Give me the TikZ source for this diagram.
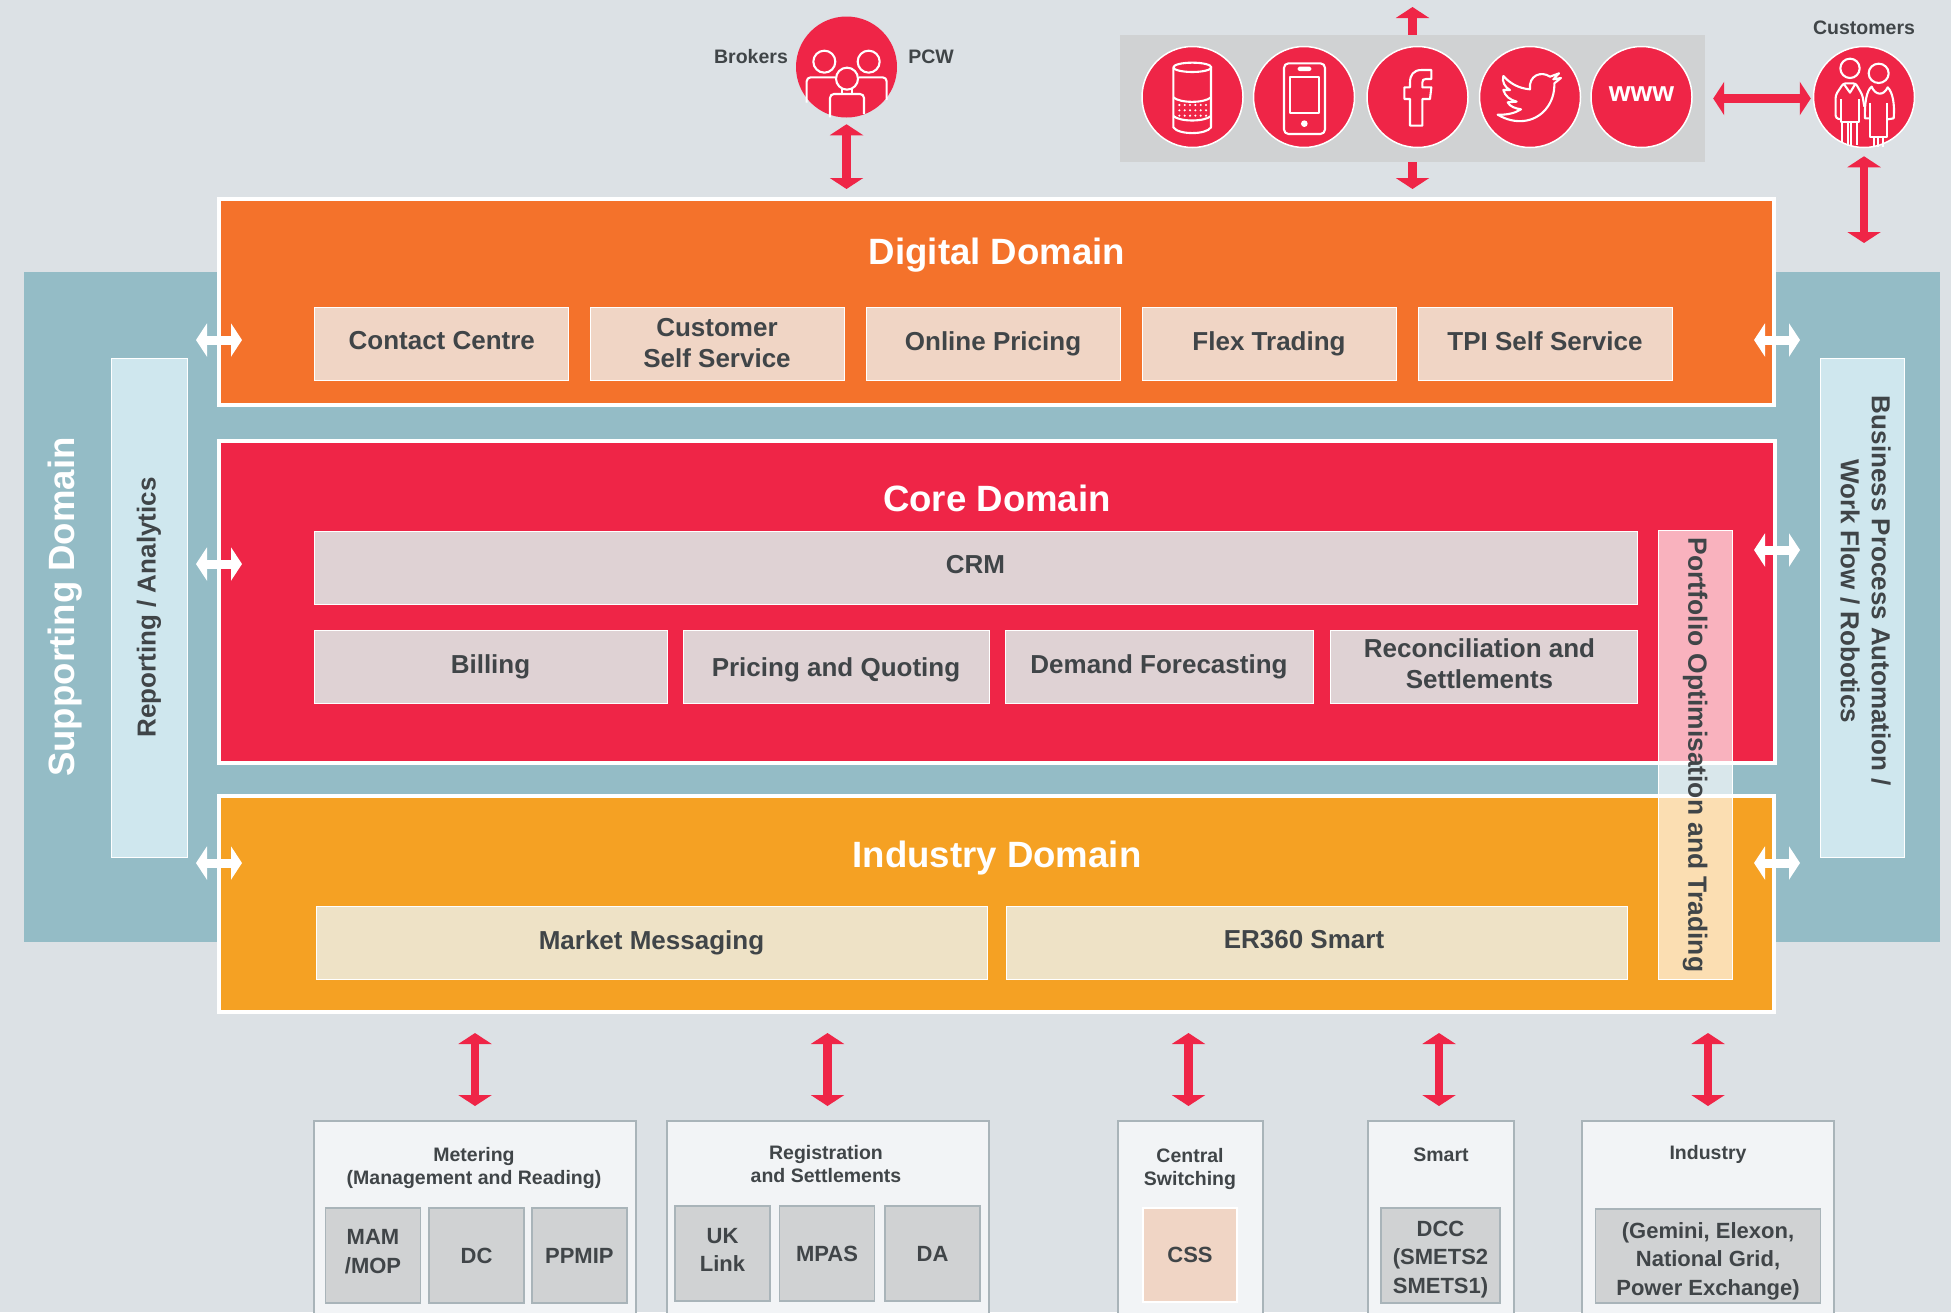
\documentclass[tikz,border=0pt]{standalone}
\usepackage{fontspec}
\setmainfont{Liberation Sans}
\usepackage{tikz}
\usetikzlibrary{arrows.meta}

\definecolor{pagegrey}{HTML}{DCE1E5}
\definecolor{teal}{HTML}{94BCC6}
\definecolor{palebar}{HTML}{CFE7EE}
\definecolor{digitalorange}{HTML}{F4722B}
\definecolor{corered}{HTML}{EF2547}
\definecolor{industryyellow}{HTML}{F5A123}
\definecolor{inorange}{HTML}{F0D5C5}
\definecolor{inred}{HTML}{DFD2D4}
\definecolor{inyellow}{HTML}{EEE2C6}
\definecolor{panelgrey}{HTML}{D0D2D3}
\definecolor{outerpale}{HTML}{F2F4F6}
\definecolor{edgegrey}{HTML}{A9B4B9}
\definecolor{inktext}{HTML}{404548}

\tikzset{
    domainbox/.style={draw=white, line width=4pt, inner sep=0pt},
    domaintitle/.style={text=white, font=\fontsize{36.6}{40}\selectfont\bfseries, inner sep=0pt},
    intext/.style={inner sep=0pt, align=center, text=inktext, font=\fontsize{26}{31}\selectfont\bfseries},
    inbox/.style={intext, draw=white, line width=1pt, minimum height=73pt},
    barbox/.style={intext, draw=white, line width=1pt},
    outerbox/.style={draw=edgegrey, line width=2pt, fill=outerpale, inner sep=0pt},
    subtext/.style={inner sep=0pt, align=center, text=inktext, font=\fontsize{22}{28.5}\selectfont\bfseries},
    subbox/.style={subtext, draw=edgegrey, line width=1.5pt, fill=panelgrey},
    smalltitle/.style={inner sep=0pt, align=center, text=inktext, font=\fontsize{19.5}{23}\selectfont\bfseries},
    iconcircle/.style={shape=circle, fill=corered, draw=white, line width=1.5pt, minimum size=101pt, inner sep=0pt},
    iconline/.style={draw=white, line width=2.1pt, line join=round},
    iconat/.style={shift={(#1)}, x=0.3333pt, y=-0.3333pt},
    redarrow/.style={draw=corered, line width=8.5pt, {Triangle[length=11pt,width=33pt]}-{Triangle[length=11pt,width=33pt]}},
    redup/.style={draw=corered, line width=8.5pt, -{Triangle[length=11pt,width=33pt]}},
    whitearrow/.style={draw=white, line width=9pt, {Triangle[length=11pt,width=33pt]}-{Triangle[length=11pt,width=33pt]}},
}

\begin{document}
\begin{tikzpicture}[x=1pt, y=-1pt]
    \clip (0,0) rectangle (1951,1312);
    \fill[pagegrey] (0,0) rectangle (1951,1312);

    \node[fill=teal, minimum width=1916pt, minimum height=669.5pt, inner sep=0pt] (supporting) at (982,607) {};
    \node[text=white, rotate=90, inner sep=0pt, font=\fontsize{36.6}{40}\selectfont\bfseries] (supportingtitle) at (65,607) {Supporting Domain};
    \node[barbox, fill=palebar, rotate=90, minimum width=499pt, minimum height=76pt] (reporting) at (149,607.5) {Reporting / Analytics};
    \node[barbox, fill=palebar, rotate=-90, minimum width=499pt, minimum height=84pt] (automation) at (1862,607.5) {};
    \node[intext, rotate=-90] (automationtext) at (1865.5,591) {Business Process Automation /\\Work Flow / Robotics};

    \node[domainbox, fill=digitalorange, minimum width=1555pt, minimum height=206pt] (digital) at (996.5,302) {};
    \node[domainbox, fill=corered, minimum width=1556pt, minimum height=322pt] (core) at (996.5,601.5) {};
    \node[domainbox, fill=industryyellow, minimum width=1555pt, minimum height=216pt] (industry) at (996.5,904) {};
    \node[domaintitle] (digitaltitle) at (997,255.5) {Digital Domain};
    \node[domaintitle] (coretitle) at (997,498) {Core Domain};
    \node[domaintitle] (industrytitle) at (997,858.5) {Industry Domain};

    \node[inbox, fill=inorange, minimum width=254pt] (contact) at (441.8,343.5) {Contact Centre\vphantom{g}};
    \node[inbox, fill=inorange, minimum width=254pt] (selfservice) at (717,343.5) {Customer\\Self Service};
    \node[inbox, fill=inorange, minimum width=254pt] (pricingonline) at (993,343.5) {Online Pricing};
    \node[inbox, fill=inorange, minimum width=254pt] (flex) at (1269,343.5) {Flex Trading};
    \node[inbox, fill=inorange, minimum width=254pt] (tpi) at (1545,343.5) {TPI Self Service\vphantom{g}};

    \node[inbox, fill=inred, minimum width=1323pt] (crm) at (975.5,567.5) {CRM\vphantom{g}};
    \node[inbox, fill=inred, minimum width=353pt] (billing) at (490.5,667) {Billing};
    \node[inbox, fill=inred, minimum width=306pt] (quoting) at (836,667) {};
    \node[intext] (quotingtext) at ([yshift=-2.5pt]quoting.center) {Pricing and Quoting};
    \node[inbox, fill=inred, minimum width=308pt] (demand) at (1159,667) {Demand Forecasting};
    \node[inbox, fill=inred, minimum width=307pt] (recon) at (1483.5,667) {};
    \node[intext] (recontext) at ([xshift=-4pt,yshift=3pt]recon.center) {Reconciliation and\\Settlements};

    \node[inbox, fill=inyellow, minimum width=671pt] (market) at (651.5,942.5) {Market Messaging};
    \node[inbox, fill=inyellow, minimum width=620.5pt] (er360) at (1317,942.5) {};
    \node[intext] (er360text) at ([xshift=-13pt]er360.center) {ER360 Smart\vphantom{g}};

    \node[barbox, fill=white, fill opacity=0.65, text opacity=1, rotate=-90, minimum width=448.5pt, minimum height=74pt, font=\fontsize{26.4}{31}\selectfont\bfseries] (portfolio) at (1695,755) {Portfolio Optimisation and Trading};

    \node[fill=panelgrey, minimum width=585pt, minimum height=127pt, inner sep=0pt] (panel) at (1412.5,98.5) {};
    \node[iconcircle, draw=none] (brokers) at (846.5,67) {};
    \node[iconcircle] (speaker) at (1192.5,97) {};
    \node[iconcircle] (phone) at (1304,97) {};
    \node[iconcircle] (facebook) at (1417.5,97) {};
    \node[iconcircle] (twitter) at (1530,97) {};
    \node[iconcircle] (www) at (1641.5,97) {};
    \node[iconcircle] (customers) at (1864,97) {};
    \node[text=white, inner sep=0pt, font=\fontsize{28}{30}\selectfont\bfseries] (wwwtext) at (1641.5,94.5) {www};
    \node[smalltitle] (brokerstext) at (751,57) {Brokers};
    \node[smalltitle] (pcwtext) at (931,57) {PCW};
    \node[smalltitle] (customerstext) at (1864,28) {Customers};

    \begin{scope}[iconat={790,10}]
        \draw[iconline] (103,155) circle (33);
        \draw[iconline] (236,155) circle (33);
        \draw[iconline] (171,206) circle (33);
        \draw[iconline, rounded corners=4pt] (50,278) -- (50,202) -- (137,202);
        \draw[iconline, rounded corners=4pt] (207,202) -- (290,202) -- (290,270);
        \draw[iconline, rounded corners=4pt] (120,322) -- (120,252) -- (222,252) -- (222,312);
        \draw[iconline] (155,238) -- (155,252);
        \draw[iconline] (187,238) -- (187,252);
    \end{scope}

    \begin{scope}[iconat={1135,40}]
        \draw[iconline] (172,82) ellipse (57 and 14);
        \draw[iconline] (115,82) -- (115,262) .. controls (130,285) and (214,285) .. (228,262) -- (228,82);
        \draw[iconline] (115,228) .. controls (135,246) and (208,246) .. (228,228);
        \draw[iconline] (115,172) .. controls (135,190) and (208,190) .. (228,172);
        \foreach \dotx in {133,149,165,181,197,213}
            \foreach \doty in {195,211,227}
                \fill[white] (\dotx,\doty) circle (3.5);
        \draw[iconline, rounded corners=4.5pt] (447,70) rectangle (570,282);
        \draw[iconline, rounded corners=1pt] (491,83) rectangle (526,90);
        \draw[iconline] (466,110) rectangle (551,220);
        \fill[white] (508,251) circle (10);
    \end{scope}

    \begin{scope}[iconat={1360,40}]
        \draw[iconline] (150,257) -- (187,257) -- (187,177) -- (210,177) -- (214,142) -- (187,142) -- (187,128)
            .. controls (187,120) and (190,117) .. (198,117) -- (214,117) -- (214,90) -- (185,90)
            .. controls (160,90) and (150,105) .. (150,128) -- (150,142) -- (133,142) -- (133,177) -- (150,177) -- cycle;
        \draw[iconline] (413,224) .. controls (440,240) and (465,245) .. (490,243)
            .. controls (545,238) and (585,190) .. (583,130) -- (603,114) -- (580,118) -- (597,100) -- (570,110)
            .. controls (545,92) and (505,105) .. (510,148)
            .. controls (475,145) and (450,130) .. (430,108)
            .. controls (425,125) and (435,142) .. (450,150) -- (430,150)
            .. controls (435,168) and (450,180) .. (470,185) -- (443,187)
            .. controls (450,200) and (465,205) .. (483,208)
            .. controls (465,220) and (440,225) .. (413,224) -- cycle;
    \end{scope}

    \begin{scope}[iconat={1805,40}]
        \draw[iconline] (135,85) circle (29);
        \draw[iconline] (221,100) ellipse (30 and 29);
        \draw[iconline, rounded corners=2.7pt] (108,238) -- (92,235) -- (92,165) -- (115,130) -- (152,130) -- (172,165) -- (178,200);
        \draw[iconline] (115,130) -- (135,158) -- (152,130);
        \draw[iconline] (108,178) -- (108,245) -- (163,245) -- (163,178);
        \draw[iconline] (112,245) -- (112,308);
        \draw[iconline] (128,245) -- (128,318);
        \draw[iconline] (138,245) -- (138,318);
        \draw[iconline] (155,245) -- (155,314);
        \draw[iconline] (195,235) -- (180,235) .. controls (178,190) and (185,150) .. (200,140) .. controls (210,165) and (235,170) .. (248,142) .. controls (262,155) and (270,190) .. (266,235) -- (248,238);
        \draw[iconline] (195,190) -- (195,290) -- (245,290) -- (245,190);
        \draw[iconline] (207,290) -- (207,320);
        \draw[iconline] (220,290) -- (220,322);
        \draw[iconline] (233,290) -- (233,320);
    \end{scope}

    \node[outerbox, minimum width=322pt, minimum height=219pt] (metering) at (475,1230.5) {};
    \node[outerbox, minimum width=322pt, minimum height=219pt] (registration) at (827.5,1230.5) {};
    \node[outerbox, minimum width=145pt, minimum height=219pt] (central) at (1190.5,1230.5) {};
    \node[outerbox, minimum width=146pt, minimum height=219pt] (smart) at (1441,1230.5) {};
    \node[outerbox, minimum width=251.5pt, minimum height=219pt] (industryext) at (1708,1230.5) {};

    \node[smalltitle] (meteringtitle) at (474,1168) {Metering\\(Management and Reading)};
    \node[smalltitle] (registrationtitle) at (826,1164) {Registration\\and Settlements};
    \node[smalltitle] (centraltitle) at (1190,1168.5) {Central\\Switching};
    \node[smalltitle] (smarttitle) at (1441,1155) {Smart};
    \node[smalltitle] (industrytitleext) at (1708,1154) {Industry};

    \node[subbox, minimum width=95pt, minimum height=95pt] (mam) at (373,1255.5) {};
    \node[subtext] (mamtext) at ([yshift=3.7pt]mam.center) {MAM\\/MOP};
    \node[subbox, minimum width=95pt, minimum height=95pt] (dc) at (476.5,1255.5) {DC};
    \node[subbox, minimum width=95pt, minimum height=95pt] (ppmip) at (579.3,1255.5) {PPMIP};
    \node[subbox, minimum width=95pt, minimum height=95pt] (uklink) at (722.5,1253.5) {};
    \node[subtext] (uklinktext) at ([yshift=3.7pt]uklink.center) {UK\\Link};
    \node[subbox, minimum width=95pt, minimum height=95pt] (mpas) at (827,1253.5) {MPAS};
    \node[subbox, minimum width=95pt, minimum height=95pt] (da) at (932.5,1253.5) {DA};
    \node[subbox, draw=white, fill=inorange, minimum width=94pt, minimum height=94pt] (css) at (1190,1255) {CSS};
    \node[subbox, minimum width=119pt, minimum height=95pt] (dcc) at (1440.5,1255.5) {};
    \node[subtext] (dcctext) at ([yshift=-3.7pt]dcc.center) {DCC\\(SMETS2\\SMETS1)};
    \node[subbox, minimum width=225pt, minimum height=94pt] (gemini) at (1708,1256) {};
    \node[subtext] (geminitext) at ([yshift=-5pt]gemini.center) {(Gemini, Elexon,\\National Grid,\\Power Exchange)};

    \coordinate (panelup) at (1412.5,7);
    \coordinate (customersdown) at (1864,243);

    \draw[redarrow, shorten <=6pt, shorten >=8pt] (brokers.south) -- (brokers.south |- digital.north);
    \draw[redup] (panel.north) -- (panelup);
    \draw[redup, shorten >=8pt] (panel.south) -- (panel.south |- digital.north);
    \draw[redarrow, shorten <=8pt, shorten >=2pt] (panel.east) -- (panel.east -| customers.west);
    \draw[redarrow, shorten <=8pt] (customers.south) -- (customersdown);

    \draw[redarrow, shorten <=14pt, shorten >=19pt] (metering.north) -- (metering.north |- industry.south);
    \draw[redarrow, shorten <=14pt, shorten >=19pt] (registration.north) -- (registration.north |- industry.south);
    \draw[redarrow, shorten <=14pt, shorten >=19pt] ([xshift=-2pt]central.north) -- ([xshift=-2pt]central.north |- industry.south);
    \draw[redarrow, shorten <=14pt, shorten >=19pt] ([xshift=-2pt]smart.north) -- ([xshift=-2pt]smart.north |- industry.south);
    \draw[redarrow, shorten <=14pt, shorten >=19pt] (industryext.north) -- (industryext.north |- industry.south);

    \foreach \startx/\endx/\arrowy in {196/242/340, 196/242/564, 196/242/863, 1754/1800/340, 1754/1800/550, 1754/1800/863} {
        \coordinate (arrowa) at (\startx,\arrowy);
        \coordinate (arrowb) at (\endx,\arrowy);
        \draw[whitearrow] (arrowa) -- (arrowb);
    }
\end{tikzpicture}
\end{document}
